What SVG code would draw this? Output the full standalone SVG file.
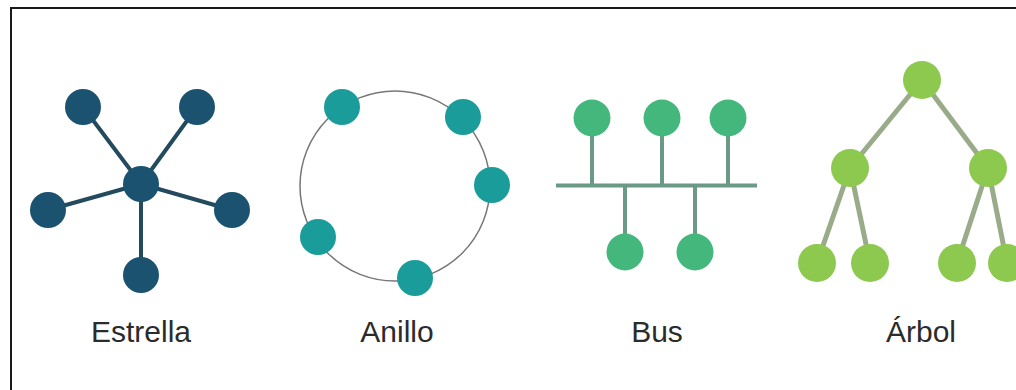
<svg xmlns="http://www.w3.org/2000/svg" width="1016" height="390" viewBox="0 0 1016 390">
<style>
.lbl{font-family:"Liberation Sans",Arial,sans-serif;font-size:30px;fill:#2b2b2b;text-anchor:middle}
.star-l{stroke:#244a5e;stroke-width:4;stroke-linecap:round}
.star-n{fill:#1b5270}
.ring-n{fill:#1a9c9b}
.bus-l{stroke:#6a9a86;stroke-width:4}
.bus-n{fill:#44b77c}
.tree-l{stroke:#9aab8a;stroke-width:5;stroke-linecap:round}
.tree-n{fill:#8dc84f}
</style>
<rect width="1016" height="390" fill="#ffffff"/>
<path d="M11 392 V8 H1018" fill="none" stroke="#1a1a1a" stroke-width="2"/>
<g id="connectors">
  <g id="star-links">
    <line class="star-l" x1="141" y1="184" x2="83" y2="107"/>
    <line class="star-l" x1="141" y1="184" x2="197" y2="107"/>
    <line class="star-l" x1="141" y1="184" x2="48" y2="210"/>
    <line class="star-l" x1="141" y1="184" x2="232" y2="210"/>
    <line class="star-l" x1="141" y1="184" x2="141" y2="275"/>
  </g>
  <circle id="ring-link" cx="395" cy="186" r="95" fill="none" stroke="#777777" stroke-width="1.5"/>
  <g id="bus-links">
    <line class="bus-l" x1="556" y1="185.5" x2="757" y2="185.5" stroke-width="5"/>
    <line class="bus-l" x1="592" y1="118" x2="592" y2="185"/>
    <line class="bus-l" x1="662" y1="118" x2="662" y2="185"/>
    <line class="bus-l" x1="728" y1="118" x2="728" y2="185"/>
    <line class="bus-l" x1="625" y1="186" x2="625" y2="252"/>
    <line class="bus-l" x1="695" y1="186" x2="695" y2="252"/>
  </g>
  <g id="tree-links">
    <line class="tree-l" x1="922" y1="80" x2="850" y2="168"/>
    <line class="tree-l" x1="922" y1="80" x2="988" y2="168"/>
    <line class="tree-l" x1="850" y1="168" x2="817" y2="263"/>
    <line class="tree-l" x1="850" y1="168" x2="870" y2="263"/>
    <line class="tree-l" x1="988" y1="168" x2="957" y2="263"/>
    <line class="tree-l" x1="988" y1="168" x2="1007" y2="263"/>
  </g>
</g>
<g id="star">
  <circle id="star-hub" class="star-n" cx="141" cy="184" r="18"/>
  <circle id="star-n1" class="star-n" cx="83" cy="107" r="18"/>
  <circle id="star-n2" class="star-n" cx="197" cy="107" r="18"/>
  <circle id="star-n3" class="star-n" cx="48" cy="210" r="18"/>
  <circle id="star-n4" class="star-n" cx="232" cy="210" r="18"/>
  <circle id="star-n5" class="star-n" cx="141" cy="275" r="18"/>
  <text class="lbl" x="141" y="342">Estrella</text>
</g>
<g id="ring">
  <circle id="ring-n1" class="ring-n" cx="342" cy="107" r="18"/>
  <circle id="ring-n2" class="ring-n" cx="463" cy="117" r="18"/>
  <circle id="ring-n3" class="ring-n" cx="492" cy="185" r="18"/>
  <circle id="ring-n4" class="ring-n" cx="318" cy="237" r="18"/>
  <circle id="ring-n5" class="ring-n" cx="415" cy="278" r="18"/>
  <text class="lbl" x="397" y="342">Anillo</text>
</g>
<g id="bus">
  <circle id="bus-n1" class="bus-n" cx="592" cy="118" r="18.5"/>
  <circle id="bus-n2" class="bus-n" cx="662" cy="118" r="18.5"/>
  <circle id="bus-n3" class="bus-n" cx="728" cy="118" r="18.5"/>
  <circle id="bus-n4" class="bus-n" cx="625" cy="252" r="18.5"/>
  <circle id="bus-n5" class="bus-n" cx="695" cy="252" r="18.5"/>
  <text class="lbl" x="657" y="342">Bus</text>
</g>
<g id="tree">
  <circle id="tree-root" class="tree-n" cx="922" cy="80" r="19"/>
  <circle id="tree-m1" class="tree-n" cx="850" cy="168" r="19"/>
  <circle id="tree-m2" class="tree-n" cx="988" cy="168" r="19"/>
  <circle id="tree-l1" class="tree-n" cx="817" cy="263" r="19"/>
  <circle id="tree-l2" class="tree-n" cx="870" cy="263" r="19"/>
  <circle id="tree-l3" class="tree-n" cx="957" cy="263" r="19"/>
  <circle id="tree-l4" class="tree-n" cx="1007" cy="263" r="19"/>
  <text class="lbl" x="921" y="342">Árbol</text>
</g>
</svg>
